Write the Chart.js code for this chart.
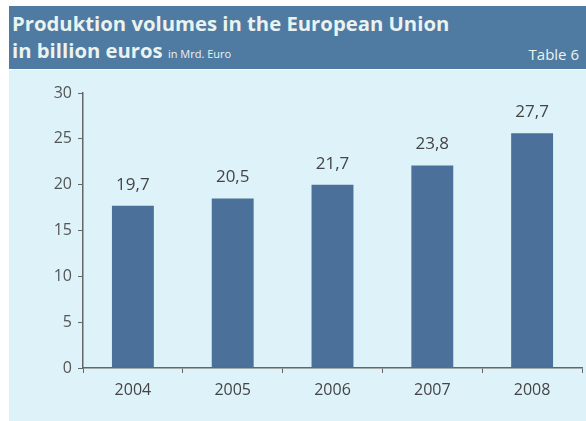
<!DOCTYPE html>
<html>
<head>
<meta charset="utf-8">
<script src="https://cdn.jsdelivr.net/npm/chart.js@4"></script>
<style>
  html, body { margin: 0; padding: 0; background: #fff; }
  #wrap { position: relative; width: 586px; height: 421px; overflow: hidden; font-family: "Open Sans", sans-serif; }
  #head { position: absolute; left: 9px; top: 6px; width: 577px; height: 63px; background: #4f7ba3; color: #eaf3f0; }
  #t1 { position: absolute; left: 3px; top: 3px; font-size: 20.3px; font-weight: 700; white-space: nowrap; }
  #t2 { position: absolute; left: 3px; top: 30px; font-size: 20.3px; font-weight: 700; white-space: nowrap; }
  #t2 small { font-size: 11px; font-weight: 400; }
  #tab { position: absolute; right: 7px; top: 38px; font-size: 15px; }
  #panel { position: absolute; left: 9px; top: 70px; width: 577px; height: 351px; background: #def3f9; }
  #c { position: absolute; left: 0; top: 0; }
</style>
</head>
<body>
<div id="wrap">
  <div id="head">
    <div id="t1">Produktion volumes in the European Union</div>
    <div id="t2">in billion euros <small>in Mrd. Euro</small></div>
    <div id="tab">Table 6</div>
  </div>
  <div id="panel"></div>
  <canvas id="c" width="586" height="421"></canvas>
</div>
<script>
// years on the x axis
const years = ['2004', '2005', '2006', '2007', '2008'];
// bar heights as drawn in the scan
const barHeights = [17.7, 18.5, 20.0, 22.1, 25.6];
// printed value labels above the bars
const valueLabels = ['19,7', '20,5', '21,7', '23,8', '27,7'];
// y axis
const yMin = 0, yMax = 30, yStep = 5;

const barLabels = {
  id: 'barLabels',
  afterDatasetsDraw(chart) {
    const { ctx } = chart;
    const meta = chart.getDatasetMeta(0);
    ctx.save();
    ctx.font = '17px "Open Sans", sans-serif';
    ctx.fillStyle = '#444';
    ctx.textAlign = 'center';
    ctx.textBaseline = 'middle';
    meta.data.forEach((bar, i) => {
      ctx.fillText(valueLabels[i], bar.x, bar.y - 21);
    });
    ctx.restore();
  }
};

new Chart(document.getElementById('c'), {
  type: 'bar',
  data: {
    labels: years,
    datasets: [{
      data: barHeights,
      backgroundColor: '#4b709a',
      barPercentage: 0.42,
      categoryPercentage: 1
    }]
  },
  options: {
    responsive: false,
    animation: false,
    layout: { padding: { left: 0, top: 93, right: 4, bottom: 0 } },
    plugins: { legend: { display: false }, tooltip: { enabled: false } },
    scales: {
      x: {
        grid: { drawOnChartArea: false, tickLength: 5, color: '#666', offset: true },
        border: { color: '#666', width: 1.5 },
        ticks: { color: '#444', font: { family: 'Open Sans', size: 16 }, padding: 8 },
        afterFit(s) { s.height = 53; }
      },
      y: {
        min: yMin, max: yMax,
        grid: { drawOnChartArea: false, tickLength: 5, color: '#666' },
        border: { color: '#666', width: 1.5 },
        ticks: { stepSize: yStep, color: '#555', font: { family: 'Open Sans', size: 16 }, padding: 6 },
        afterFit(s) { s.width = 83; }
      }
    }
  },
  plugins: [barLabels]
});
</script>
</body>
</html>
